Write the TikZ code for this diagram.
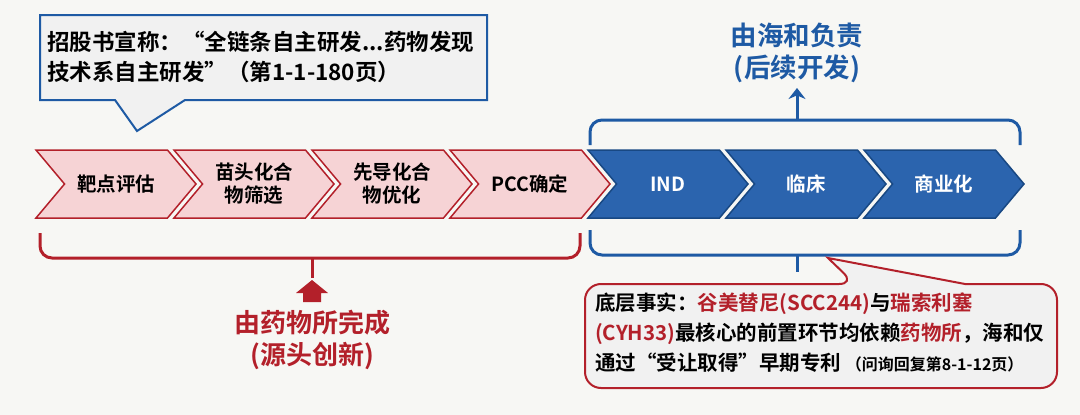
\documentclass[tikz,border=0pt]{standalone}
\usepackage{fontspec}
\setmainfont{Noto Sans CJK SC}[BoldFont={Noto Sans CJK SC Bold}]
\usetikzlibrary{shapes.symbols,positioning,arrows.meta}
\definecolor{darkred}{HTML}{B3202A}
\definecolor{pinkfill}{HTML}{F6D3D5}
\definecolor{darkblue}{HTML}{1E5AA4}
\definecolor{bluefill}{HTML}{2B64AE}
\definecolor{bgcol}{HTML}{F7F7F4}
\definecolor{boxfill}{HTML}{F1F1F1}
\begin{document}
\begin{tikzpicture}[x=1pt,y=-1pt,font=\bfseries,
  stage/.style={signal,signal from=west,signal to=east,signal pointer angle=100,
    minimum width=160pt,minimum height=68pt,inner sep=0pt,line width=1.5pt,
    align=center,font=\bfseries\fontsize{19.5}{23}\selectfont},
  red stage/.style={stage,draw=darkred,fill=pinkfill,text=black},
  blue stage/.style={stage,draw=darkblue!80!black,fill=bluefill,text=white},
  bracket/.style={line width=3pt,rounded corners=12pt}]
  \fill[bgcol] (0,0) rectangle (1080,415);

  % chevrons
  \node[red stage] (target) at (116,184) {靶点评估};
  \node[red stage] (hit) at (254,184) {苗头化合\\物筛选};
  \node[red stage] (lead) at (392,184) {先导化合\\物优化};
  \node[red stage] (pcc) at (530,184) {PCC确定};
  \node[blue stage] (ind) at (668,184) {IND};
  \node[blue stage] (clinic) at (806,184) {临床};
  \node[blue stage] (market) at (944,184) {商业化};

  % top callout
  \draw[darkblue,line width=2pt,fill=boxfill]
    (40,15) -- (487,15) -- (487,100) -- (185,100) -- (137,131) -- (115,100) -- (40,100) -- cycle;
  \node[anchor=north west,align=left,inner sep=0pt,font=\bfseries\fontsize{22.5}{30}\selectfont] (claim) at (47,31)
    {招股书宣称：“全链条自主研发...药物发现\\技术系自主研发”（第1-1-180页）};

  % blue bracket top
  \draw[bracket,darkblue] (590,145) -- (590,120) -- (1020,120) -- (1020,145);
  \coordinate (topmid) at (797,120);
  \coordinate (topend) at (797,88);
  \draw[darkblue,line width=3pt,-{Stealth[length=11pt,width=17pt]}] (topmid) -- (topend);
  \node[darkblue,align=center,font=\bfseries\fontsize{26.5}{32}\selectfont] (haihe) at (797,53) {由海和负责\\(后续开发)};

  % red bracket bottom
  \draw[bracket,darkred] (40,233) -- (40,258) -- (580,258) -- (580,233);
  \coordinate (botmid) at (312,258);
  \coordinate (botend) at (312,278);
  \draw[darkred,line width=3pt] (botmid) -- (botend);
  \fill[darkred] (303,302) -- (303,293) -- (296,293) -- (312,280) -- (328,293) -- (321,293) -- (321,302) -- cycle;
  \node[darkred,align=center,font=\bfseries\fontsize{26}{32}\selectfont] (sims) at (312,340) {由药物所完成\\(源头创新)};

  % blue bracket bottom
  \draw[bracket,darkblue] (590,230) -- (590,255) -- (1020,255) -- (1020,230);
  \coordinate (bmid) at (797,255);
  \coordinate (bend) at (797,272);
  \draw[darkblue,line width=3pt] (bmid) -- (bend);

  % bottom callout
  \draw[darkred,line width=2pt,fill=boxfill,rounded corners=16pt]
    (585,284) -- (855,284) [sharp corners] -- (828,258) -- (965,284) [rounded corners=16pt] -- (1057,284) -- (1057,388) -- (585,388) -- cycle;
  \node[anchor=north west,align=left,inner sep=0pt,font=\bfseries\fontsize{20.5}{30}\selectfont] (fact) at (595,293)
    {底层事实：\textcolor{darkred}{谷美替尼(SCC244)}与\textcolor{darkred}{瑞索利塞}\\
     \textcolor{darkred}{(CYH33)}最核心的前置环节均依赖\textcolor{darkred}{药物所}，海和仅\\
     通过“受让取得”早期专利 {\fontsize{16}{30}\selectfont（问询回复第8-1-12页）}};
\end{tikzpicture}
\end{document}
